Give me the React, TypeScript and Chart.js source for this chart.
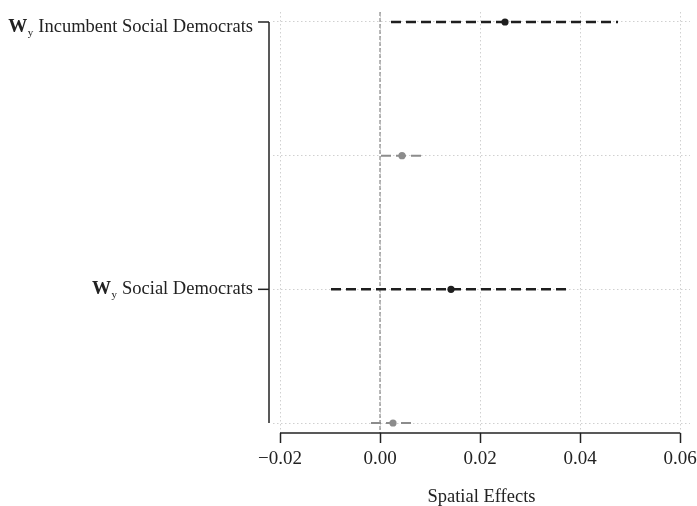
import { useEffect, useRef } from "react";
import { Chart, registerables } from "chart.js";

Chart.register(...registerables);

// Rows of the coefficient plot, top to bottom
const rowPositions = [1, 2, 3, 4];
const rowLabels = ["Incumbent Social Democrats", "", "Social Democrats", ""];
const estimates = [0.025, 0.0044, 0.0142, 0.0026];
const lowerBounds = [0.0022, 0.0002, -0.0098, -0.0018];
const upperBounds = [0.0476, 0.0086, 0.038, 0.0066];
const xTicks = [-0.02, 0, 0.02, 0.04, 0.06];
const xTitle = "Spatial Effects";

const FONT = '"Liberation Serif", "Times New Roman", serif';
const TEXT = "#222222";
const DARK = "#1e1e1e";
const LIGHT = "#8c8c8c";
const GRID = "#d0d0d0";

const rowColor = (i: number) => (rowLabels[i] ? DARK : LIGHT);
// baseline drop of each row label below its tick
const labelDrop = (i: number) => (i === 0 ? 10 : 5);

const axesPlugin = {
  id: "coefAxes",
  beforeDatasetsDraw(chart: any) {
    const { ctx, chartArea, scales } = chart;
    const x0 = scales.x.getPixelForValue(0);
    ctx.save();
    ctx.strokeStyle = "#8a8a8a";
    ctx.lineWidth = 1.2;
    ctx.setLineDash([4, 2]);
    ctx.beginPath();
    ctx.moveTo(x0, chartArea.top);
    ctx.lineTo(x0, chartArea.bottom);
    ctx.stroke();
    ctx.restore();
  },
  afterDraw(chart: any) {
    const { ctx, chartArea, scales } = chart;
    const { x, y } = scales;
    ctx.save();
    ctx.strokeStyle = TEXT;
    ctx.lineWidth = 1.5;
    ctx.setLineDash([]);

    // bottom axis line spanning the tick range
    ctx.beginPath();
    ctx.moveTo(x.getPixelForValue(xTicks[0]), chartArea.bottom);
    ctx.lineTo(x.getPixelForValue(xTicks[xTicks.length - 1]), chartArea.bottom);
    ctx.stroke();

    // left axis line spanning the rows
    const axisX = chartArea.left - 4;
    ctx.beginPath();
    ctx.moveTo(axisX, y.getPixelForValue(rowPositions[0]));
    ctx.lineTo(axisX, y.getPixelForValue(rowPositions[rowPositions.length - 1]));
    ctx.stroke();

    // row labels: bold W with subscript y, then the party name
    rowLabels.forEach((label, i) => {
      if (!label) return;
      const py = y.getPixelForValue(rowPositions[i]);
      ctx.beginPath();
      ctx.moveTo(axisX - 11, py);
      ctx.lineTo(axisX, py);
      ctx.stroke();

      const right = axisX - 16;
      const base = py + labelDrop(i);
      ctx.fillStyle = TEXT;
      ctx.textAlign = "right";
      ctx.textBaseline = "alphabetic";
      ctx.font = `18.5px ${FONT}`;
      ctx.fillText(label, right, base);
      let cx = right - ctx.measureText(label).width - 5;
      ctx.font = `11px ${FONT}`;
      ctx.fillText("y", cx, base + 4);
      cx -= ctx.measureText("y").width + 0.5;
      ctx.font = `bold 19px ${FONT}`;
      ctx.fillText("W", cx, base);
    });
    ctx.restore();
  },
};

export default function App() {
  const canvasRef = useRef<HTMLCanvasElement | null>(null);

  useEffect(() => {
    if (!canvasRef.current) return;

    const pointData = rowPositions.map((r, i) => ({ x: estimates[i], y: r }));
    const intervalSets = rowPositions.map((r, i) => ({
      data: [
        { x: lowerBounds[i], y: r },
        { x: upperBounds[i], y: r },
      ],
      showLine: true,
      borderColor: rowColor(i),
      borderWidth: rowLabels[i] ? 2.5 : 2,
      borderDash: [10, 5],
      pointRadius: 0,
      pointHoverRadius: 0,
    }));

    const chart = new Chart(canvasRef.current, {
      type: "scatter",
      data: {
        datasets: [
          {
            data: pointData,
            pointRadius: 3.6,
            pointHoverRadius: 3.6,
            pointBackgroundColor: rowPositions.map((_, i) => rowColor(i)),
            pointBorderWidth: 0,
          } as any,
          ...intervalSets,
        ],
      },
      options: {
        responsive: false,
        animation: false,
        devicePixelRatio: 1,
        layout: { padding: { top: 12, right: 7, left: 0, bottom: 0 } },
        plugins: { legend: { display: false }, tooltip: { enabled: false } },
        scales: {
          x: {
            type: "linear",
            min: -0.0214,
            max: 0.062,
            afterBuildTicks: (s: any) => {
              s.ticks = xTicks.map((v) => ({ value: v }));
            },
            afterFit: (s: any) => {
              s.height = 73;
              s.paddingLeft = 0;
              s.paddingRight = 0;
            },
            ticks: {
              color: TEXT,
              padding: 5,
              maxRotation: 0,
              font: { family: FONT, size: 19 },
              callback: (v: any) => Number(v).toFixed(2).replace("-", "\u2212"),
            },
            grid: {
              color: GRID,
              lineWidth: 1,
              tickColor: TEXT,
              tickLength: 10,
              tickWidth: 1.5,
              tickBorderDash: [],
            },
            border: { display: false, dash: [1.5, 2.5] },
            title: {
              display: true,
              text: xTitle,
              color: TEXT,
              font: { family: FONT, size: 18.5 },
              padding: { top: 0, bottom: -2 },
            },
          },
          y: {
            type: "linear",
            reverse: true,
            min: 0.9252,
            max: 4.0748,
            afterBuildTicks: (s: any) => {
              s.ticks = rowPositions.map((v) => ({ value: v }));
            },
            afterFit: (s: any) => {
              s.width = 273;
              s.paddingTop = 0;
              s.paddingBottom = 0;
            },
            ticks: { display: false },
            grid: { color: GRID, lineWidth: 1, drawTicks: false },
            border: { display: false, dash: [1.5, 2.5] },
          },
        },
      } as any,
      plugins: [axesPlugin],
    });

    return () => chart.destroy();
  }, []);

  return (
    <div
      style={{
        position: "fixed",
        left: 0,
        top: 0,
        width: 697,
        height: 506,
        background: "#ffffff",
      }}
    >
      <canvas ref={canvasRef} width={697} height={506} style={{ display: "block" }} />
    </div>
  );
}
